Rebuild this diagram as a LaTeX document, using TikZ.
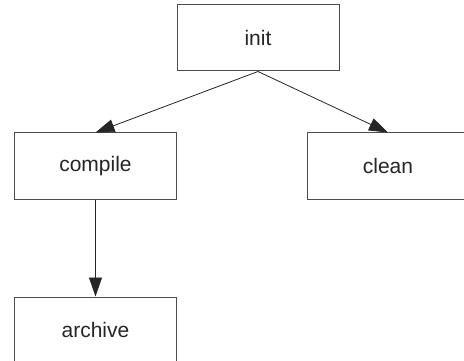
\documentclass[tikz,border=0pt]{standalone}
\usepackage{fontspec}
\setmainfont{Liberation Sans}
\usetikzlibrary{arrows.meta}
\begin{document}
\begin{tikzpicture}[x=1pt,y=1pt,
  box/.style={draw=black!70, line width=1pt, fill=white, minimum width=162pt, minimum height=66pt, inner sep=0pt, font=\fontsize{21}{24}\selectfont, text=black!85},
  link/.style={draw=black!85, line width=0.8pt, -{Triangle[length=19pt,width=13pt]}}]
\clip (0,0) rectangle (464,-361);
\fill[white] (0,0) rectangle (464,-361);
\node[box] (init) at (258,-38) {init};
\node[box] (compile) at (95.5,-166) {compile};
\node[box] (clean) at (388,-166) {clean};
\node[box] (archive) at (95.5,-330) {archive};
\draw[link] (init.south) -- (compile.north);
\draw[link] (init.south) -- (clean.north);
\draw[link] (compile.south) -- (archive.north);
\end{tikzpicture}
\end{document}
